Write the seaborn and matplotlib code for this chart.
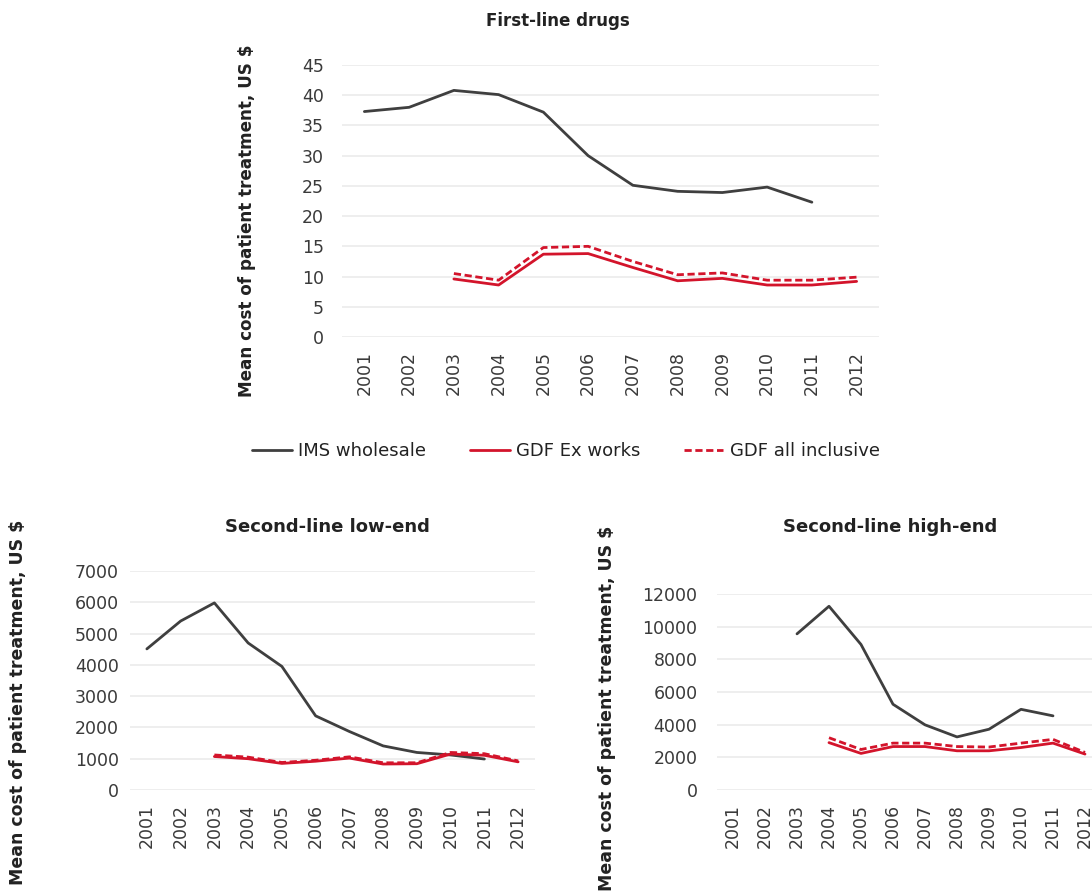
import numpy as np
import pandas as pd
import matplotlib
matplotlib.use("Agg")
import matplotlib.pyplot as plt
import seaborn as sns
from matplotlib.lines import Line2D

years = list(range(2001, 2013))

# First-line drugs
first_ims = [37.3, 38.0, 40.8, 40.1, 37.2, 30.0, 25.1, 24.1, 23.9, 24.8, 22.3, None]
first_exw = [None, None, 9.6, 8.6, 13.7, 13.8, 11.5, 9.3, 9.7, 8.6, 8.6, 9.2]
first_all = [None, None, 10.5, 9.4, 14.8, 15.0, 12.5, 10.3, 10.6, 9.4, 9.4, 9.9]

# Second-line low-end
low_ims = [4510, 5400, 5980, 4700, 3950, 2370, 1870, 1410, 1200, 1120, 990, None]
low_exw = [None, None, 1070, 1000, 850, 920, 1020, 830, 840, 1150, 1110, 900]
low_all = [None, None, 1120, 1050, 880, 950, 1060, 870, 870, 1200, 1160, 930]

# Second-line high-end
high_ims = [None, None, 9560, 11250, 8910, 5250, 3990, 3250, 3720, 4940, 4540, None]
high_exw = [None, None, None, 2900, 2240, 2660, 2660, 2400, 2400, 2600, 2870, 2200]
high_all = [None, None, None, 3200, 2480, 2870, 2870, 2660, 2630, 2870, 3100, 2300]

titles = ["First-line drugs", "Second-line low-end", "Second-line high-end"]
series_names = ["IMS wholesale", "GDF Ex works", "GDF all inclusive"]
ylabel = "Mean cost of patient treatment, US $"

sns.set_theme(style="white")
plt.rcParams['font.family'] = ['DejaVu Sans']

GRAY = "#3f3f3f"
RED = "#d3142b"
GRID = "#ebebeb"
TICKC = "#3a3a3a"
DASH = (0, (2.6, 1.3))

W, H = 1092, 893
fig = plt.figure(figsize=(W / 100, H / 100), dpi=100)


def box(l, r, t, b):
    return [l / W, 1 - b / H, (r - l) / W, (b - t) / H]


ax_top = fig.add_axes(box(342, 879, 65, 337))
ax_bl = fig.add_axes(box(130, 535, 571, 790))
ax_br = fig.add_axes(box(717, 1101, 594, 790))

panels = [
    (ax_top, first_ims, first_exw, first_all, 45, 5, 13),
    (ax_bl, low_ims, low_exw, low_all, 7000, 1000, 8),
    (ax_br, high_ims, high_exw, high_all, 12000, 2000, 14),
]

for ax, ims, exw, alli, ymax, step, ypad in panels:
    df = pd.DataFrame({"year": years, series_names[0]: ims,
                       series_names[1]: exw, series_names[2]: alli})
    df = df.astype(float)
    sns.lineplot(data=df, x="year", y=series_names[0], ax=ax, color=GRAY,
                 lw=2.0, legend=False)
    sns.lineplot(data=df, x="year", y=series_names[1], ax=ax, color=RED,
                 lw=2.0, legend=False)
    sns.lineplot(data=df, x="year", y=series_names[2], ax=ax, color=RED,
                 lw=2.0, legend=False, linestyle=DASH)
    ax.set_xlim(2000.5, 2012.5)
    ax.set_ylim(0, ymax)
    ax.set_yticks(np.arange(0, ymax + step / 2, step))
    ax.set_xticks(years)
    ax.set_xticklabels([str(y) for y in years], rotation=90, fontsize=12.5,
                       color=TICKC)
    ax.tick_params(axis="y", labelsize=12.5, labelcolor=TICKC, length=0,
                   pad=ypad)
    ax.tick_params(axis="x", length=0, pad=10)
    ax.grid(axis="y", color=GRID, lw=1.2)
    ax.set_axisbelow(True)
    for s in ax.spines.values():
        s.set_visible(False)
    ax.set_xlabel("")
    ax.set_ylabel("")

# Titles
fig.text(558 / W, 1 - 21 / H, titles[0], ha="center", va="center",
         fontsize=12, fontweight="bold", color="#222222")
fig.text(327 / W, 1 - 527 / H, titles[1], ha="center", va="center",
         fontsize=13, fontweight="bold", color="#222222")
fig.text(890 / W, 1 - 527 / H, titles[2], ha="center", va="center",
         fontsize=13, fontweight="bold", color="#222222")

# Y labels
for x, yc, fs in [(247, 221, 12.1), (18, 702, 12.5), (607, 708, 12.5)]:
    fig.text(x / W, 1 - yc / H, ylabel, rotation=90, ha="center",
             va="center", fontsize=fs, fontweight="bold", color="#222222")

handles = [
    Line2D([], [], color=GRAY, lw=2.0),
    Line2D([], [], color=RED, lw=2.0),
    Line2D([], [], color=RED, lw=2.0, linestyle=DASH),
]
fig.legend(handles, series_names, loc="center", ncol=3,
           bbox_to_anchor=(566 / W, 1 - 451 / H), frameon=False,
           fontsize=13, handlelength=2.2, handletextpad=0.35,
           columnspacing=2.4, labelcolor="#222222")

fig.savefig("out.png", dpi=100)
